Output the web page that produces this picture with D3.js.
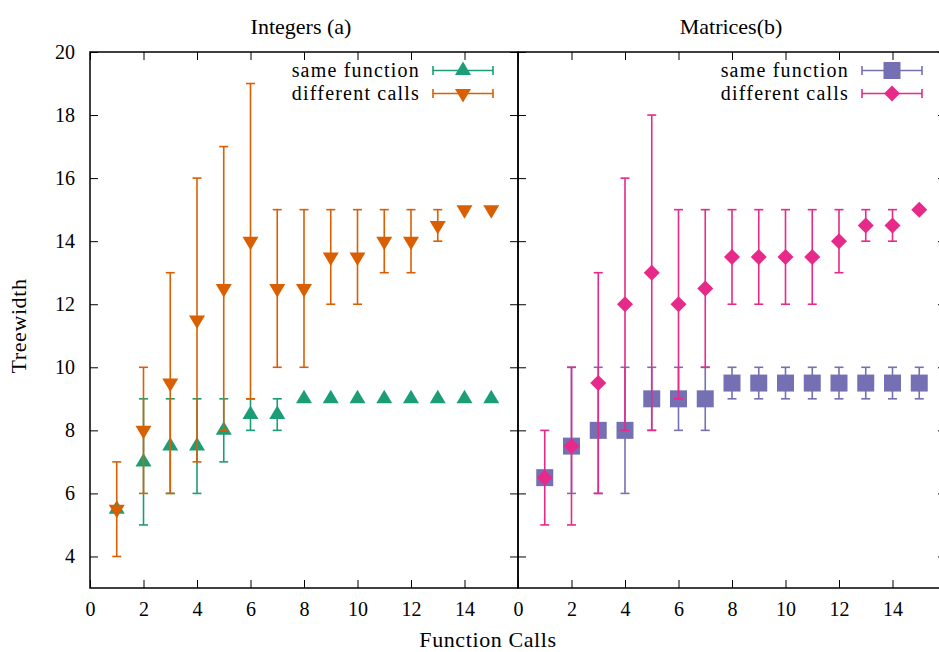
<!DOCTYPE html>
<html><head><meta charset="utf-8">
<script src="https://cdn.jsdelivr.net/npm/d3@7"></script>
<style>body{margin:0;background:#fff}svg{display:block}text{font-family:"Liberation Serif",serif;fill:#000}</style>
</head><body><svg id="c" width="939" height="652"></svg>
<script>
const xs = [1,2,3,4,5,6,7,8,9,10,11,12,13,14,15];
// Integers (a)
const intSameY   = [5.5,7,7.5,7.5,8,8.5,8.5,9,9,9,9,9,9,9,9];
const intSameLo  = [5.5,5,6,6,7,8,8,9,9,9,9,9,9,9,9];
const intSameHi  = [5.5,9,9,9,9,9,9,9,9,9,9,9,9,9,9];
const intDiffY   = [5.5,8,9.5,11.5,12.5,14,12.5,12.5,13.5,13.5,14,14,14.5,15,15];
const intDiffLo  = [4,6,6,7,8,9,10,10,12,12,13,13,14,15,15];
const intDiffHi  = [7,10,13,16,17,19,15,15,15,15,15,15,15,15,15];
// Matrices (b)
const matSameY   = [6.5,7.5,8,8,9,9,9,9.5,9.5,9.5,9.5,9.5,9.5,9.5,9.5];
const matSameLo  = [6.5,6,6,6,8,8,8,9,9,9,9,9,9,9,9];
const matSameHi  = [6.5,10,10,10,10,10,10,10,10,10,10,10,10,10,10];
const matDiffY   = [6.5,7.5,9.5,12,13,12,12.5,13.5,13.5,13.5,13.5,14,14.5,14.5,15];
const matDiffLo  = [5,5,6,8,8,9,10,12,12,12,12,13,14,14,15];
const matDiffHi  = [8,10,13,16,18,15,15,15,15,15,15,15,15,15,15];
const xTicks = [0,2,4,6,8,10,12,14];
const yTicks = [4,6,8,10,12,14,16,18,20];
const titles = ["Integers (a)","Matrices(b)"];
const legendLabels = ["same function","different calls"];

const svg = d3.select("#c");
const yTop = 52, yBot = 588;
const y = d3.scaleLinear().domain([3,20]).range([yBot, yTop]);
const panels = [
  {x: d3.scaleLinear().domain([0,16]).range([90,518]), title: titles[0], tx: 301, lx: 433,
   series: [
     {name: legendLabels[0], color:"#1b9e77", sym:"tri", v:intSameY, lo:intSameLo, hi:intSameHi},
     {name: legendLabels[1], color:"#d95f02", sym:"tridown", v:intDiffY, lo:intDiffLo, hi:intDiffHi}]},
  {x: d3.scaleLinear().domain([0,16]).range([518,946]), title: titles[1], tx: 731, lx: 862,
   series: [
     {name: legendLabels[0], color:"#7570b3", sym:"sq", v:matSameY, lo:matSameLo, hi:matSameHi},
     {name: legendLabels[1], color:"#e7298a", sym:"dia", v:matDiffY, lo:matDiffLo, hi:matDiffHi}]}
];

function symPath(sym){
  if (sym==="tri") return "M0,-9L8,4.5L-8,4.5Z";
  if (sym==="tridown") return "M0,9L8,-4.5L-8,-4.5Z";
  if (sym==="sq") return "M-8.5,-8.5H8.5V8.5H-8.5Z";
  return "M0,-8L8,0L0,8L-8,0Z";
}

panels.forEach((p, pi) => {
  const g = svg.append("g");
  const x0 = p.x.range()[0], x1 = p.x.range()[1];
  const axL = d3.axisLeft(y).tickValues(yTicks).tickSize(-8).tickPadding(15).tickFormat(d3.format("d"));
  const gy = g.append("g").attr("transform",`translate(${x0},0)`).call(axL);
  if (pi===1) gy.selectAll("text").remove();
  const axR = d3.axisRight(y).tickValues(yTicks).tickSize(-8).tickFormat("");
  g.append("g").attr("transform",`translate(${x1},0)`).call(axR);
  const axB = d3.axisBottom(p.x).tickValues(xTicks).tickSize(-8).tickPadding(14).tickFormat(d3.format("d"));
  g.append("g").attr("transform",`translate(0,${yBot})`).call(axB);
  const axT = d3.axisTop(p.x).tickValues(xTicks).tickSize(-8).tickFormat("");
  g.append("g").attr("transform",`translate(0,${yTop})`).call(axT);
  g.selectAll(".domain").remove();
  g.selectAll(".tick line").attr("stroke","#000").attr("stroke-width",1);
  g.selectAll(".tick text").style("font-size","20px").style("font-family","Liberation Serif, serif");
  g.append("rect").attr("x",x0).attr("y",yTop).attr("width",x1-x0).attr("height",yBot-yTop)
    .attr("fill","none").attr("stroke","#000").attr("stroke-width",1.5);
  g.append("text").attr("x",p.tx).attr("y",34)
    .attr("text-anchor","middle").style("font-size","22px").text(p.title);

  p.series.forEach(s => {
    const sg = g.append("g");
    xs.forEach((xv,i) => {
      const cx = p.x(xv);
      if (s.hi[i] !== s.lo[i]) {
        sg.append("line").attr("x1",cx).attr("x2",cx).attr("y1",y(s.lo[i])).attr("y2",y(s.hi[i]))
          .attr("stroke",s.color).attr("stroke-width",1.6);
        [s.lo[i], s.hi[i]].forEach(e => sg.append("line").attr("x1",cx-4.5).attr("x2",cx+4.5)
          .attr("y1",y(e)).attr("y2",y(e)).attr("stroke",s.color).attr("stroke-width",1.6));
      }
    });
    sg.selectAll("path.m").data(xs).join("path").attr("class","m")
      .attr("d",symPath(s.sym)).attr("fill",s.color)
      .attr("transform",(d,i)=>`translate(${p.x(d)},${y(s.v[i])})`);
  });

  const lx = p.lx, lw = 60;
  p.series.forEach((s,k) => {
    const ly = 70.5 + k*23;
    g.append("text").attr("x",lx-13).attr("y",ly+6.5).attr("text-anchor","end")
      .style("font-size","20px").style("letter-spacing","1.2px").text(s.name);
    g.append("line").attr("x1",lx).attr("x2",lx+lw).attr("y1",ly).attr("y2",ly).attr("stroke",s.color).attr("stroke-width",1.6);
    [lx, lx+lw].forEach(e => g.append("line").attr("x1",e).attr("x2",e).attr("y1",ly-4.5).attr("y2",ly+4.5)
      .attr("stroke",s.color).attr("stroke-width",1.6));
    g.append("path").attr("d",symPath(s.sym)).attr("fill",s.color).attr("transform",`translate(${lx+lw/2},${ly})`);
  });
});

svg.append("text").attr("transform","translate(26,326) rotate(-90)").attr("text-anchor","middle")
  .style("font-size","22px").style("letter-spacing","0.6px").text("Treewidth");
svg.append("text").attr("x",488).attr("y",647).attr("text-anchor","middle")
  .style("font-size","22px").style("letter-spacing","0.6px").text("Function Calls");
</script></body></html>
